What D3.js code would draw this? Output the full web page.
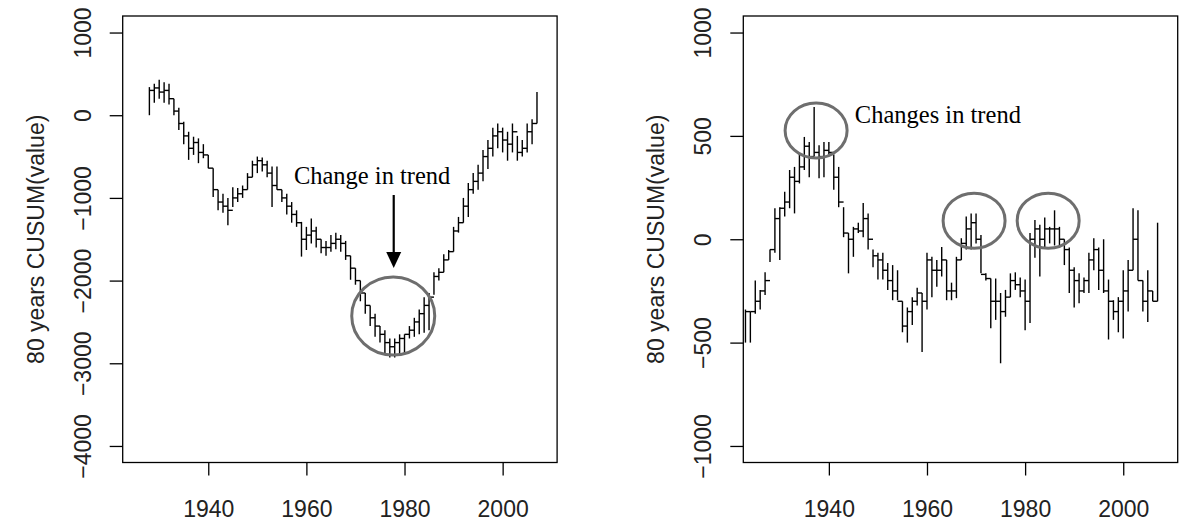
<!DOCTYPE html>
<html>
<head>
<meta charset="utf-8">
<script src="https://cdn.jsdelivr.net/npm/d3@7"></script>
<style>
  body { margin: 0; background: #fff; }
  svg { display: block; }
  .tick-label { font-family: "Liberation Sans", Arial, sans-serif; font-size: 23px; fill: #222; }
  .note { font-family: "Liberation Serif", "Times New Roman", serif; font-size: 24.5px; fill: #000; }
</style>
</head>
<body>
<svg id="chart" width="1179" height="524"></svg>
<script>
// --- data ---
const leftYears = d3.range(1928, 2008);
const leftLo = [0, 150, 200, 150, 130, 0, -180, -350, -540, -480, -580, -520, -640, -990, -1150, -1180, -1330, -1110, -1050, -1000,
  -900, -750, -700, -680, -750, -1110, -900, -1050, -1200, -1300, -1350, -1710, -1630, -1550, -1600, -1670, -1700, -1650, -1620, -1650,
  -1750, -1990, -2050, -2250, -2400, -2550, -2680, -2750, -2880, -2930, -2930, -2900, -2900, -2700, -2680, -2650, -2630, -2600, -2170, -2000,
  -1900, -1750, -1650, -1420, -1300, -1230, -950, -900, -800, -650, -500, -400, -450, -550, -450, -550, -500, -450, -350, -100];
const leftHi = [340, 380, 430, 400, 380, 200, 90, -80, -200, -260, -280, -350, -480, -640, -900, -950, -1000, -870, -880, -850,
  -700, -550, -500, -510, -550, -620, -620, -900, -950, -1050, -1150, -1290, -1350, -1250, -1350, -1500, -1520, -1450, -1420, -1450,
  -1520, -1700, -1850, -2000, -2150, -2300, -2400, -2550, -2600, -2700, -2700, -2650, -2650, -2550, -2450, -2350, -2200, -2150, -1900, -1850,
  -1680, -1630, -1350, -1230, -1000, -820, -700, -600, -420, -300, -150, -100, -150, -200, -100, -250, -300, -100, -50, 280];
const leftStep = [300, 330, 280, 300, 200, 50, -100, -250, -400, -330, -450, -480, -640, -900, -1050, -1100, -1150, -1000, -950, -900,
  -750, -600, -550, -600, -700, -850, -900, -1000, -1100, -1200, -1300, -1500, -1450, -1400, -1500, -1600, -1600, -1550, -1500, -1550,
  -1700, -1850, -2000, -2150, -2300, -2450, -2550, -2650, -2750, -2800, -2750, -2700, -2650, -2600, -2500, -2400, -2300, -2200, -1950, -1900,
  -1750, -1650, -1400, -1300, -1100, -900, -800, -700, -500, -400, -250, -200, -300, -350, -200, -450, -400, -200, -100, 280];

const rightYears = d3.range(1923, 2008);
const rightLo = [-500, -500, -360, -340, -270, -110, -65, -100, 110, 150, 125, 270, 335, 300, 400, 295, 300, 410, 240, 155,
  10, -165, -85, 30, 10, -50, -135, -195, -195, -245, -295, -295, -450, -500, -415, -320, -545, -340, -280, -230,
  -180, -295, -295, -285, -100, -50, -50, -20, -165, -200, -430, -390, -600, -375, -280, -245, -280, -440, -405, -90,
  -180, -37, -20, -30, -40, -125, -260, -330, -310, -260, -260, -150, -245, -260, -485, -390, -450, -480, -350, -150,
  -200, -350, -400, -300, -300];
const rightHi = [-340, -350, -200, -245, -160, -50, 150, 155, 230, 335, 350, 410, 495, 470, 640, 455, 470, 470, 410, 350,
  155, 30, 60, 80, 175, 125, -50, -65, -65, -115, -125, -150, -300, -330, -280, -235, -260, -65, -85, -100,
  -37, -100, -210, -85, 5, 110, 125, 125, 20, -165, -190, -190, -260, -245, -165, -160, -185, -195, 30, 93,
  70, 105, 60, 140, 60, 0, -40, -135, -165, -185, -65, 5, -40, 0, -195, -295, -280, -150, -100, 150,
  140, -200, -150, -250, 80];
const rightStep = [-350, -350, -300, -250, -200, -50, 100, 150, 180, 300, 280, 350, 450, 400, 420, 400, 430, 420, 300, 180,
  30, 0, 50, 40, 100, 0, -80, -100, -150, -200, -250, -300, -420, -350, -300, -260, -300, -100, -150, -150,
  -100, -250, -250, -100, -20, 50, 80, 0, -170, -190, -300, -300, -350, -280, -200, -220, -250, -300, 0, 50,
  0, 50, 50, 50, 0, -50, -150, -200, -250, -200, -100, -50, -150, -250, -300, -350, -300, -250, -150, 0,
  -200, -300, -250, -300, 80];

const xTicks = [1940, 1960, 1980, 2000];
const leftYTicks = [-4000, -3000, -2000, -1000, 0, 1000];
const rightYTicks = [-1000, -500, 0, 500, 1000];

// --- layout ---
const svg = d3.select("#chart");
const boxTop = 16, boxBottom = 462.5, boxW = 434.4;
const xDomain = [1922.56, 2011.1];

function panel(left, years, lo, hi, step, yDomain, yTicks) {
  const x = d3.scaleLinear().domain(xDomain).range([left, left + boxW]);
  const y = d3.scaleLinear().domain(yDomain).range([boxBottom, boxTop]);
  const g = svg.append("g");

  // box
  g.append("rect")
    .attr("x", left).attr("y", boxTop)
    .attr("width", boxW).attr("height", boxBottom - boxTop)
    .attr("fill", "none").attr("stroke", "#000").attr("stroke-width", 1.3);

  // x axis
  const xa = g.append("g")
    .attr("transform", `translate(0,${boxBottom})`)
    .call(d3.axisBottom(x).tickValues(xTicks).tickFormat(d3.format("d")).tickSize(13).tickSizeOuter(0));
  xa.select(".domain").remove();
  xa.selectAll("line").attr("stroke", "#000").attr("stroke-width", 1.3);
  xa.selectAll("text").attr("class", "tick-label").attr("fill", null).attr("dy", null).attr("y", 54);

  // y axis
  const ya = g.append("g")
    .attr("transform", `translate(${left},0)`)
    .call(d3.axisLeft(y).tickValues(yTicks).tickFormat(d3.format("d")).tickSize(13).tickSizeOuter(0));
  ya.select(".domain").remove();
  ya.selectAll("line").attr("stroke", "#000").attr("stroke-width", 1.3);
  ya.selectAll("text")
    .attr("class", "tick-label").attr("fill", null)
    .attr("x", null).attr("dy", null)
    .attr("text-anchor", "middle")
    .attr("transform", "translate(-32,0) rotate(-90)");

  // y title
  g.append("text")
    .attr("class", "tick-label")
    .attr("text-anchor", "middle")
    .attr("transform", `translate(${left - 79},${(boxTop + boxBottom) / 2}) rotate(-90)`)
    .text("80 years CUSUM(value)");

  // series: yearly range bars joined by steps
  const rows = years.map((yr, i) => ({ yr, lo: lo[i], hi: hi[i], step: step[i], next: years[i + 1] }));
  g.append("g").selectAll("line")
    .data(rows).join("line")
    .attr("x1", (d) => x(d.yr)).attr("x2", (d) => x(d.yr))
    .attr("y1", (d) => y(d.lo)).attr("y2", (d) => y(d.hi))
    .attr("stroke", "#000").attr("stroke-width", 1.4);
  g.append("g").selectAll("line")
    .data(rows.filter((d) => d.next !== undefined)).join("line")
    .attr("x1", (d) => x(d.yr)).attr("x2", (d) => x(d.next))
    .attr("y1", (d) => y(d.step)).attr("y2", (d) => y(d.step))
    .attr("stroke", "#000").attr("stroke-width", 1.4);

  return { g, x, y };
}

const L = panel(122.7, leftYears, leftLo, leftHi, leftStep, [-4200, 1200], leftYTicks);
const R = panel(743.3, rightYears, rightLo, rightHi, rightStep, [-1080, 1080], rightYTicks);

// --- annotations ---
const ring = "#6e6e6e";
const ax = L.x(1977.8);

L.g.append("text").attr("class", "note")
  .attr("x", L.x(1973.4)).attr("y", L.y(-832)).attr("text-anchor", "middle")
  .text("Change in trend");
L.g.append("line")
  .attr("x1", ax).attr("x2", ax)
  .attr("y1", L.y(-965)).attr("y2", L.y(-1660))
  .attr("stroke", "#000").attr("stroke-width", 2.2);
L.g.append("path")
  .attr("d", `M${ax - 7.5},${L.y(-1654)}L${ax + 7.5},${L.y(-1654)}L${ax},${L.y(-1848)}Z`)
  .attr("fill", "#000");
L.g.append("ellipse")
  .attr("cx", L.x(1977.7)).attr("cy", L.y(-2428))
  .attr("rx", 41.5).attr("ry", 39)
  .attr("fill", "none").attr("stroke", ring).attr("stroke-width", 3);

R.g.append("text").attr("class", "note")
  .attr("x", R.x(1945.3)).attr("y", R.y(562))
  .text("Changes in trend");
[[1937.4, 526], [1969.6, 90], [1984.7, 90]].forEach(([yr, v]) => {
  R.g.append("ellipse")
    .attr("cx", R.x(yr)).attr("cy", R.y(v))
    .attr("rx", 31).attr("ry", 27.5)
    .attr("fill", "none").attr("stroke", ring).attr("stroke-width", 3);
});
</script>
</body>
</html>
